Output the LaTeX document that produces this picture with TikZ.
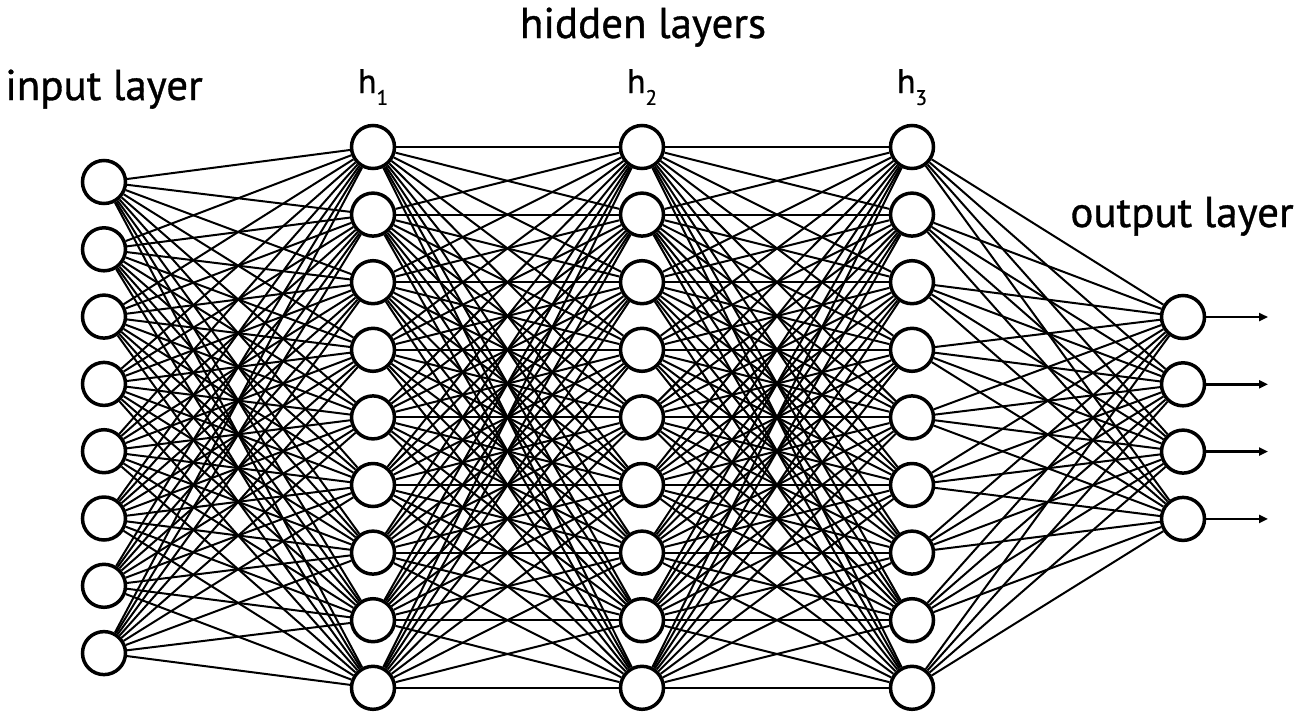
\documentclass[tikz,border=0pt]{standalone}
\usepackage{fontspec}
\setmainfont{PT Sans}
\newfontfamily\lblfont{PT Sans}[BoldFont={PT Sans},BoldFeatures={FakeBold=0.8}]
\usetikzlibrary{arrows.meta,backgrounds}
\begin{document}
\begin{tikzpicture}[x=1pt,y=-1pt,
  neuron/.style={circle,draw=black,fill=white,line width=3.5pt,minimum size=43pt,inner sep=0pt},
  edge/.style={line width=2pt},
  outarrow/.style={line width=2.4pt,-{Triangle[length=9pt,width=8pt]}},
  biglabel/.style={font=\lblfont\bfseries\fontsize{43}{43}\selectfont,anchor=base},
  hlabel/.style={font=\lblfont\bfseries\fontsize{34}{34}\selectfont,anchor=base}]
\useasboundingbox (0,0) rectangle (1300,718);
% nodes
\foreach \i in {1,...,8} {
  \node[neuron] (i\i) at (104,{182+(\i-1)*67.3}) {};
}
\foreach \L/\x in {a/373,b/642,c/912} {
  \foreach \i in {1,...,9} {
    \node[neuron] (\L\i) at (\x,{147+(\i-1)*67.6}) {};
  }
}
\foreach \i in {1,...,4} {
  \node[neuron] (o\i) at (1183,{317+(\i-1)*67.3}) {};
}
% edges
\begin{pgfonlayer}{background}
\foreach \i in {1,...,8} \foreach \j in {1,...,9} \draw[edge] (i\i) -- (a\j);
\foreach \i in {1,...,9} \foreach \j in {1,...,9} \draw[edge] (a\i) -- (b\j);
\foreach \i in {1,...,9} \foreach \j in {1,...,9} \draw[edge] (b\i) -- (c\j);
\foreach \i in {1,...,9} \foreach \j in {1,...,4} \draw[edge] (c\i) -- (o\j);
\end{pgfonlayer}
% outputs
\foreach \i in {1,...,4} {
  \coordinate (e\i) at (1268,{317+(\i-1)*67.3});
  \draw[outarrow] (o\i) -- (e\i);
}
% labels
\node[biglabel] (tin) at (104,100) {input layer};
\node[biglabel] (thid) at (643,38) {hidden layers};
\node[biglabel] (tout) at (1182,227) {output layer};
\node[hlabel] (h1) at (373,93) {h\raisebox{-0.35em}{\fontsize{21}{21}\selectfont 1}};
\node[hlabel] (h2) at (642,93) {h\raisebox{-0.35em}{\fontsize{21}{21}\selectfont 2}};
\node[hlabel] (h3) at (912,93) {h\raisebox{-0.35em}{\fontsize{21}{21}\selectfont 3}};
\end{tikzpicture}
\end{document}
